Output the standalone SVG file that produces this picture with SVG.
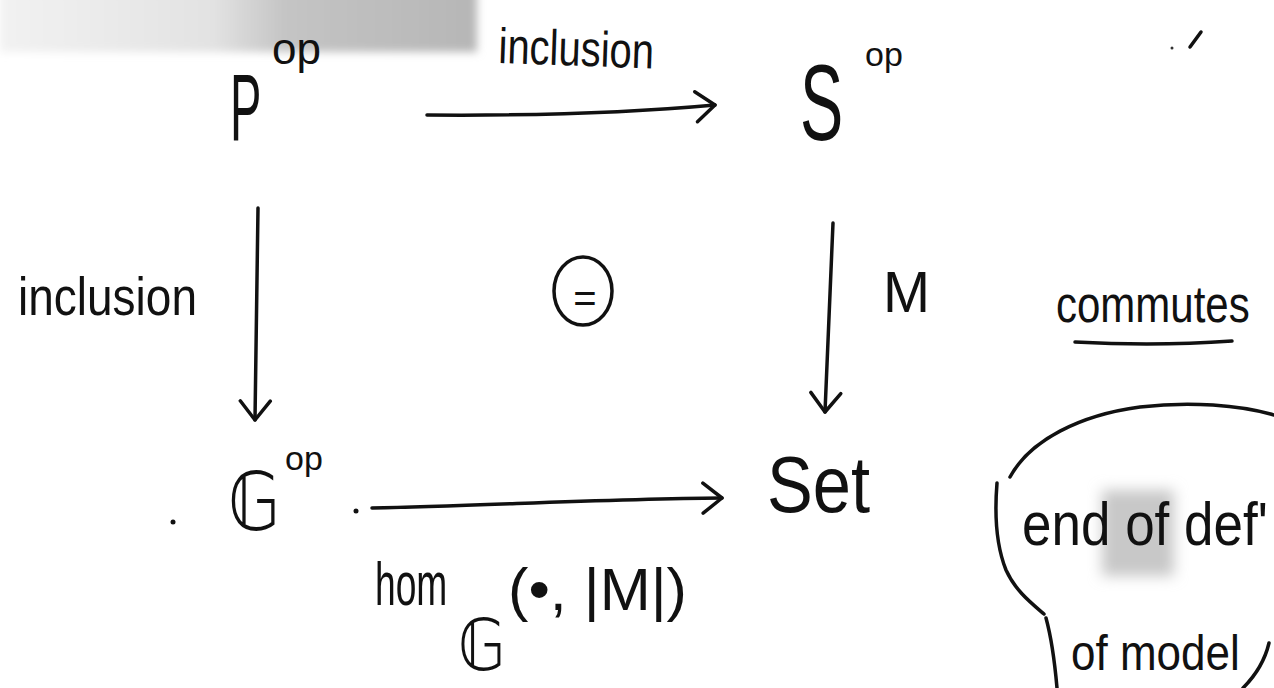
<svg xmlns="http://www.w3.org/2000/svg" width="1274" height="688" viewBox="0 0 1274 688">
<defs>
<style>
.hw{font-family:"Liberation Sans",Arial,sans-serif;fill:#111;}
.bb{font-family:"DejaVu Sans","Noto Sans",sans-serif;fill:#111;}
.ln{fill:none;stroke:#111;stroke-width:3.5;stroke-linecap:round;stroke-linejoin:round;}
</style>
<marker id="ah" markerUnits="userSpaceOnUse" markerWidth="40" markerHeight="40" refX="0" refY="0" viewBox="-25 -20 30 40" orient="auto">
<path d="M-19,-15 L0,0 L-19,15" fill="none" stroke="#111" stroke-width="3.5" stroke-linecap="round" stroke-linejoin="round"/>
</marker>
<filter id="blur" x="-30%" y="-30%" width="160%" height="160%"><feGaussianBlur stdDeviation="4"/></filter>
<filter id="blur2" x="-40%" y="-40%" width="180%" height="180%"><feGaussianBlur stdDeviation="7"/></filter>
<linearGradient id="smg" x1="0" y1="0" x2="1" y2="0">
<stop offset="0" stop-color="#f2f2f2"/>
<stop offset="0.45" stop-color="#e2e2e2"/>
<stop offset="0.6" stop-color="#c4c4c4"/>
<stop offset="1" stop-color="#b6b6b6"/>
</linearGradient>
</defs>
<rect width="1274" height="688" fill="#fff"/>
<g id="smudges">
<rect x="0" y="-10" width="477" height="62" fill="url(#smg)" filter="url(#blur)"/>
<rect x="1102" y="490" width="72" height="86" fill="#c8c8c8" filter="url(#blur2)"/>
<path d="M1190 47 L1201 32" class="ln" stroke-width="2"/>
<circle cx="1172" cy="48" r="1.5" fill="#333"/>
<circle cx="173" cy="522" r="2.5" fill="#111"/>
<circle cx="356" cy="511" r="2.5" fill="#111"/>
</g>
<g id="connectors">
<path class="ln" d="M427 115 C550 116 650 111 715 105" marker-end="url(#ah)"/>
<path class="ln" d="M258 208 L255 420" marker-end="url(#ah)"/>
<path class="ln" d="M833 223 L825 412" marker-end="url(#ah)"/>
<path class="ln" d="M372 508 C480 506 600 499 722 498" marker-end="url(#ah)"/>
<text class="hw" x="0" y="0" font-size="40" transform="translate(498 63) rotate(2) scale(1 1.25)">inclusion</text>
<text class="hw" x="0" y="0" font-size="46" transform="translate(18 315) scale(1 1.15)">inclusion</text>
<text class="hw" x="883" y="312" font-size="58" textLength="47" lengthAdjust="spacingAndGlyphs">M</text>
<g id="hom-label">
<text class="hw" x="0" y="0" font-size="62" transform="translate(375 605) scale(0.6 1)">hom</text>
<text class="bb" x="0" y="0" font-size="72" transform="translate(458 670) scale(0.85 1)">𝔾</text>
<text class="hw" x="508" y="610" font-size="60" textLength="179" lengthAdjust="spacingAndGlyphs">(•, |M|)</text>
</g>
</g>
<g id="node-P">
<text class="hw" x="0" y="0" font-size="94" transform="translate(230 140) scale(0.5 1)">P</text>
<text class="hw" x="272" y="64" font-size="44">op</text>
</g>
<g id="node-S">
<text class="hw" x="0" y="0" font-size="108" transform="translate(800 140) scale(0.6 1)">S</text>
<text class="hw" x="865" y="66" font-size="34">op</text>
</g>
<g id="node-G">
<text class="bb" x="228" y="530" font-size="80" textLength="52" lengthAdjust="spacingAndGlyphs">𝔾</text>
<text class="hw" x="285" y="470" font-size="34">op</text>
</g>
<g id="node-Set">
<text class="hw" x="767" y="512" font-size="80" textLength="103" lengthAdjust="spacingAndGlyphs">Set</text>
</g>
<g id="commute-mark">
<ellipse cx="583" cy="291" rx="29" ry="34" class="ln"/>
<text class="hw" x="585" y="312" font-size="40" text-anchor="middle">=</text>
</g>
<g id="note-commutes">
<text class="hw" x="0" y="0" font-size="42" transform="translate(1056 322) scale(1 1.25)">commutes</text>
<path class="ln" d="M1075 342 C1130 345 1190 344 1232 341" stroke-width="4.5"/>
</g>
<g id="note-end">
<path class="ln" d="M1010 477 C1030 440 1080 415 1140 407 C1190 401 1240 405 1274 415"/>
<path class="ln" d="M997 483 C994 520 998 550 1006 570 C1015 590 1030 602 1044 614 M1046 618 C1052 640 1055 665 1057 688"/>
<path class="ln" d="M1269 643 C1265 660 1256 675 1243 688"/>
<text class="hw" x="0" y="0" font-size="53" transform="translate(1022 545) scale(1 1.15)">end of def'</text>
<text class="hw" x="0" y="0" font-size="44" transform="translate(1071 670) scale(1 1.15)">of model</text>
</g>
</svg>
